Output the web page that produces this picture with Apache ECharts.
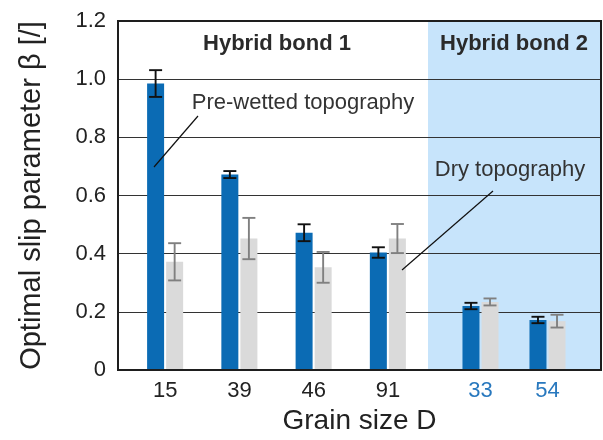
<!DOCTYPE html>
<html>
<head>
<meta charset="utf-8">
<script src="https://cdn.jsdelivr.net/npm/echarts@6/dist/echarts.min.js"></script>
<style>
  html, body { margin: 0; padding: 0; background: #fff; }
  #chart { width: 603px; height: 440px; }
</style>
</head>
<body>
<div id="chart"></div>
<script>
// Grain sizes for each hybrid bond
const bond1Grains = ['15', '39', '46', '91'];
const bond2Grains = ['33', '54'];

// Optimal slip parameter, pre-wetted topography (mean and error)
const preWetBond1 = [0.985, 0.672, 0.472, 0.404];
const preWetBond1Err = [0.046, 0.012, 0.029, 0.018];
const preWetBond2 = [0.220, 0.172];
const preWetBond2Err = [0.011, 0.011];

// Optimal slip parameter, dry topography (mean and error)
const dryBond1 = [0.372, 0.452, 0.353, 0.452];
const dryBond1Err = [0.064, 0.071, 0.053, 0.050];
const dryBond2 = [0.234, 0.168];
const dryBond2Err = [0.012, 0.022];

// y-axis ticks
const yTicks = [0, 0.2, 0.4, 0.6, 0.8, 1.0, 1.2];

const FONT = '"Liberation Sans", Arial, sans-serif';
const BLUE = '#0b6bb4';
const GREY = '#dadada';
const BAR_W = 17;
const BAR_GAP_PCT = 12;
const PAIR_OFFSET = (BAR_W + BAR_W * BAR_GAP_PCT / 100) / 2;

function errorRenderer(offset, color) {
  return function (params, api) {
    const top = api.coord([api.value(0), api.value(1) + api.value(2)]);
    const bot = api.coord([api.value(0), api.value(1) - api.value(2)]);
    const x = top[0] + offset;
    const hw = 6.5;
    const style = { stroke: color, lineWidth: 1.9 };
    return {
      type: 'group',
      children: [
        { type: 'line', shape: { x1: x, y1: top[1], x2: x, y2: bot[1] }, style: style },
        { type: 'line', shape: { x1: x - hw, y1: top[1], x2: x + hw, y2: top[1] }, style: style },
        { type: 'line', shape: { x1: x - hw, y1: bot[1], x2: x + hw, y2: bot[1] }, style: style }
      ]
    };
  };
}

function withErr(vals, errs) {
  return vals.map((v, i) => [i, v, errs[i]]);
}

const hiddenY = (gi) => ({ gridIndex: gi, type: 'value', min: 0, max: 1.2, show: false });

function label(text, x, y, font, fill) {
  return { type: 'text', x: x, y: y, z: 10,
    style: { text: text, font: font, fill: fill, textAlign: 'center', textVerticalAlign: 'middle' } };
}

const option = {
  animation: false,
  textStyle: { fontFamily: FONT },
  grid: [
    // frame with y axis, split lines and border
    { left: 118, right: 2, top: 21, bottom: 70, show: true, backgroundColor: 'transparent',
      borderColor: '#1e1e1e', borderWidth: 2, z: 4 },
    // shaded region for hybrid bond 2
    { left: 428, right: 2, top: 21, bottom: 70, show: true, backgroundColor: '#c7e4fb',
      borderWidth: 0, z: -1 },
    // hybrid bond 1 bars
    { left: 128, right: 178, top: 21, bottom: 70 },
    // hybrid bond 2 bars
    { left: 447, right: 22, top: 21, bottom: 70 }
  ],
  xAxis: [
    { gridIndex: 0, type: 'value', min: 0, max: 1,
      axisLine: { show: false }, axisTick: { show: false }, axisLabel: { show: false },
      splitLine: { show: false },
      name: 'Grain size D', nameLocation: 'middle', nameGap: 37,
      nameTextStyle: { fontSize: 28, color: '#222', fontFamily: FONT } },
    { gridIndex: 1, type: 'category', data: ['a'], show: false },
    { gridIndex: 2, type: 'category', data: bond1Grains,
      axisLine: { show: false }, axisTick: { show: false },
      axisLabel: { fontSize: 22, color: '#222', margin: 10, fontFamily: FONT } },
    { gridIndex: 3, type: 'category', data: bond2Grains,
      axisLine: { show: false }, axisTick: { show: false },
      axisLabel: { fontSize: 22, color: '#2878be', margin: 10, fontFamily: FONT } }
  ],
  yAxis: [
    { gridIndex: 0, type: 'value', min: yTicks[0], max: yTicks[yTicks.length - 1], interval: 0.2, z: 1,
      axisLine: { show: false }, axisTick: { show: false },
      axisLabel: { fontSize: 22, color: '#222', margin: 12, fontFamily: FONT,
        formatter: (v) => (v === 0 ? '0' : v.toFixed(1)) },
      splitLine: { show: true, lineStyle: { color: '#333', width: 1.2 } },
      name: 'Optimal slip parameter \u03b2 [/]', nameLocation: 'middle', nameGap: 72,
      nameTextStyle: { fontSize: 29, color: '#222', fontFamily: FONT } },
    hiddenY(1), hiddenY(2), hiddenY(3)
  ],
  graphic: [
    label('Hybrid bond 1', 277, 44, 'bold 22px ' + FONT, '#2a2a2a'),
    label('Hybrid bond 2', 514, 44, 'bold 22px ' + FONT, '#2a2a2a'),
    label('Pre-wetted topography', 303, 103, '22px ' + FONT, '#333'),
    { type: 'line', z: 10, shape: { x1: 198, y1: 116, x2: 154, y2: 167 },
      style: { stroke: '#111', lineWidth: 1.2 } },
    label('Dry topography', 510, 170, '22px ' + FONT, '#333'),
    { type: 'line', z: 10, shape: { x1: 493, y1: 191, x2: 402, y2: 270 },
      style: { stroke: '#111', lineWidth: 1.2 } }
  ],
  series: [
    { name: 'Pre-wetted topography', type: 'bar', xAxisIndex: 2, yAxisIndex: 2,
      data: preWetBond1, barWidth: BAR_W, barGap: BAR_GAP_PCT + '%', itemStyle: { color: BLUE } },
    { name: 'Dry topography', type: 'bar', xAxisIndex: 2, yAxisIndex: 2,
      data: dryBond1, barWidth: BAR_W, barGap: BAR_GAP_PCT + '%', itemStyle: { color: GREY } },
    { name: 'Pre-wetted topography', type: 'bar', xAxisIndex: 3, yAxisIndex: 3,
      data: preWetBond2, barWidth: BAR_W, barGap: BAR_GAP_PCT + '%', itemStyle: { color: BLUE } },
    { name: 'Dry topography', type: 'bar', xAxisIndex: 3, yAxisIndex: 3,
      data: dryBond2, barWidth: BAR_W, barGap: BAR_GAP_PCT + '%', itemStyle: { color: GREY } },
    { type: 'custom', xAxisIndex: 2, yAxisIndex: 2, z: 5,
      renderItem: errorRenderer(-PAIR_OFFSET, '#111'), data: withErr(preWetBond1, preWetBond1Err) },
    { type: 'custom', xAxisIndex: 2, yAxisIndex: 2, z: 5,
      renderItem: errorRenderer(PAIR_OFFSET, '#808080'), data: withErr(dryBond1, dryBond1Err) },
    { type: 'custom', xAxisIndex: 3, yAxisIndex: 3, z: 5,
      renderItem: errorRenderer(-PAIR_OFFSET, '#111'), data: withErr(preWetBond2, preWetBond2Err) },
    { type: 'custom', xAxisIndex: 3, yAxisIndex: 3, z: 5,
      renderItem: errorRenderer(PAIR_OFFSET, '#808080'), data: withErr(dryBond2, dryBond2Err) }
  ]
};

const chart = echarts.init(document.getElementById('chart'), null, { renderer: 'canvas' });
chart.setOption(option);
</script>
</body>
</html>
